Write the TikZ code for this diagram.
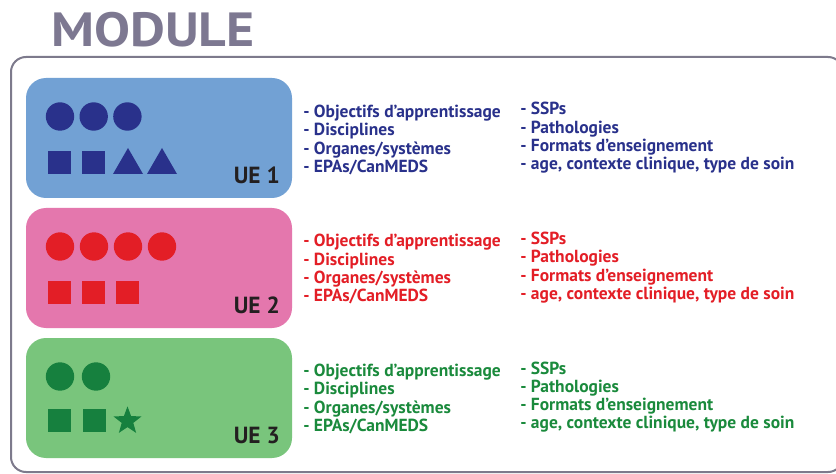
\documentclass[tikz,border=0pt]{standalone}
\usepackage{fontspec}
\setmainfont{PT Sans}
\usetikzlibrary{shapes.geometric}
\definecolor{titlegray}{RGB}{125,120,145}
\definecolor{framegray}{RGB}{125,122,140}
\definecolor{bluefill}{RGB}{114,161,212}
\definecolor{navy}{RGB}{41,49,139}
\definecolor{pinkfill}{RGB}{228,119,173}
\definecolor{redc}{RGB}{227,30,38}
\definecolor{greenfill}{RGB}{121,197,124}
\definecolor{dgreen}{RGB}{22,128,62}
\definecolor{greentext}{RGB}{26,138,60}
\definecolor{uetext}{RGB}{35,31,32}
\newcommand{\mkitems}[3]{%
  \node[item,text=#2] (#3a1) at (303,{117.5+#1}) {- Objectifs d’apprentissage};
  \node[item,text=#2] (#3a2) at (303,{135.8+#1}) {- Disciplines};
  \node[item,text=#2] (#3a3) at (303,{154.1+#1}) {- Organes/systèmes};
  \node[item,text=#2] (#3a4) at (303,{172.4+#1}) {- EPAs/CanMEDS};
  \node[item,text=#2] (#3b1) at (520,{115+#1}) {- SSPs};
  \node[item,text=#2] (#3b2) at (520,{133.3+#1}) {- Pathologies};
  \node[item,text=#2] (#3b3) at (520,{151.6+#1}) {- Formats d’enseignement};
  \node[item,text=#2] (#3b4) at (520,{169.9+#1}) {- age, contexte clinique, type de soin};
}
\begin{document}
\begin{tikzpicture}[x=0.75pt,y=-0.75pt,
  item/.style={anchor=base west,inner sep=0pt,font=\bfseries\fontsize{13.1}{15}\selectfont},
  uebox/.style={rectangle,rounded corners=15pt,minimum width=199.5pt,minimum height=90pt,inner sep=0pt},
  uelabel/.style={anchor=base east,inner sep=0pt,text=uetext,font=\bfseries\fontsize{17.5}{20}\selectfont},
  dot/.style={circle,minimum size=21.3pt,inner sep=0pt},
  sq/.style={rectangle,minimum size=17.25pt,inner sep=0pt}]
\useasboundingbox (0,0) rectangle (836,474);
\fill[white] (0,0) rectangle (836,474);
\node[anchor=base west,inner sep=0pt,text=titlegray,font=\bfseries\fontsize{36}{40}\selectfont] (title) at (51,47) {\scalebox{1.12}[1]{MODULE}};
\begin{scope}
\clip (0,0) rectangle (836,474);
\draw[framegray,line width=1.5pt,rounded corners=11.25pt] (11,57) rectangle (843,472);
\end{scope}
% UE 1
\node[uebox,fill=bluefill] (ue1) at (159,138) {};
\foreach \i/\cx in {1/60,2/93.7,3/127.4}{\node[dot,fill=navy] (ue1c\i) at (\cx,116.5) {};}
\node[sq,fill=navy] (ue1s1) at (59.5,162.5) {};
\node[sq,fill=navy] (ue1s2) at (93.5,162.5) {};
\fill[navy] (113,174) -- (128,148) -- (143,174) -- cycle;
\fill[navy] (147,174) -- (162,148) -- (177,174) -- cycle;
\node[uelabel] (ue1l) at (280,183.5) {UE 1};
\mkitems{0}{navy}{ue1}
% UE 2
\node[uebox,fill=pinkfill] (ue2) at (159,268) {};
\foreach \i/\cx in {1/60,2/94,3/128,4/162}{\node[dot,fill=redc] (ue2c\i) at (\cx,246.5) {};}
\node[sq,fill=redc] (ue2s1) at (59.5,292.5) {};
\node[sq,fill=redc] (ue2s2) at (93.5,292.5) {};
\node[sq,fill=redc] (ue2s3) at (127.5,292.5) {};
\node[uelabel] (ue2l) at (280,313.5) {UE 2};
\mkitems{129.5}{redc}{ue2}
% UE 3
\node[uebox,fill=greenfill] (ue3) at (159,398) {};
\node[dot,fill=dgreen] (ue3c1) at (60,376.5) {};
\node[dot,fill=dgreen] (ue3c2) at (96,376.5) {};
\node[sq,fill=dgreen] (ue3s1) at (59.5,420.5) {};
\node[sq,fill=dgreen] (ue3s2) at (94.5,420.5) {};
\node[star,star points=5,star point ratio=2.4,minimum size=22pt,inner sep=0pt,fill=dgreen] (ue3st) at (127.5,421) {};
\node[uelabel] (ue3l) at (280,443.5) {UE 3};
\mkitems{259}{greentext}{ue3}
\end{tikzpicture}
\end{document}
